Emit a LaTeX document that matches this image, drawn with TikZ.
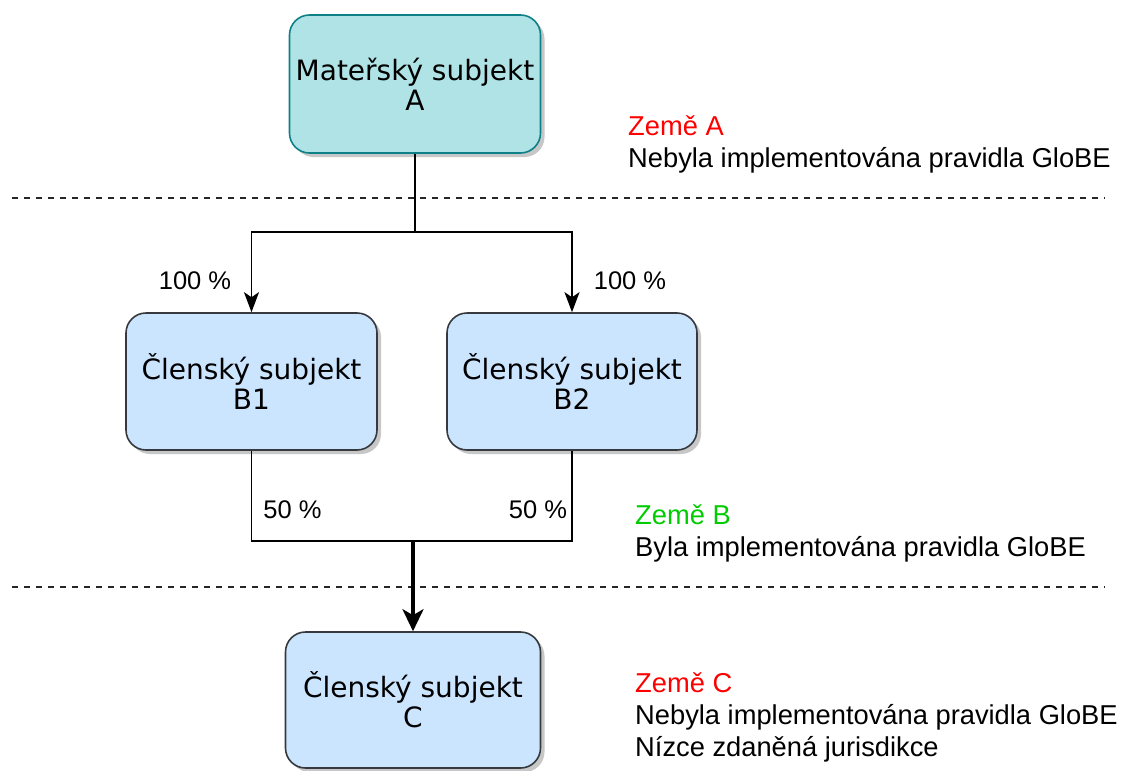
\documentclass[tikz,border=0pt]{standalone}
\usepackage{fontspec}
\setmainfont{Liberation Sans}
\newfontfamily\boxfont{DejaVu Sans}
\usetikzlibrary{arrows.meta,shadows}
\definecolor{tealfill}{HTML}{B0E3E6}
\definecolor{tealline}{HTML}{0E8088}
\definecolor{bluefill}{HTML}{CCE5FF}
\definecolor{blueline}{HTML}{36393D}
\definecolor{zred}{HTML}{FF0000}
\definecolor{zgreen}{HTML}{00CC00}
\tikzset{
  entity/.style={draw, line width=1.6pt, rounded corners=20pt, align=center,
    inner sep=0pt, font=\boxfont\fontsize{28}{30}\selectfont,
    drop shadow={shadow xshift=4pt, shadow yshift=-4pt, fill=black, opacity=0.22}},
  parent/.style={entity, fill=tealfill, draw=tealline},
  member/.style={entity, fill=bluefill, draw=blueline},
  link/.style={line width=1.8pt},
  linkarrow/.style={link, -{Stealth[length=20pt,width=15pt,inset=5pt]}},
  mainarrow/.style={line width=3.4pt, -{Stealth[length=22pt,width=21pt,inset=6pt]}},
  share/.style={font=\fontsize{25.5}{28}\selectfont, inner sep=0pt},
  divider/.style={line width=1.4pt, dash pattern=on 6pt off 6pt, draw=black!85},
  note/.style={align=left, anchor=west, inner sep=0pt, font=\fontsize{27.3}{32}\selectfont}
}
\begin{document}
\begin{tikzpicture}[x=1pt,y=-1pt]
\useasboundingbox (0,0) rectangle (1122,771);

% country dividers
\draw[divider] (12,198) coordinate (d1a) -- (1105,198) coordinate (d1b);
\draw[divider] (12,587) coordinate (d2a) -- (1105,587) coordinate (d2b);

% entities
\node[parent, minimum width=251pt, minimum height=138pt] (A) at (415,84) {Mateřský subjekt\\A};
\node[member, minimum width=251pt, minimum height=137pt] (B1) at (251.5,381.5) {Členský subjekt\\B1};
\node[member, minimum width=250pt, minimum height=137pt] (B2) at (572,381.5) {Členský subjekt\\B2};
\node[member, minimum width=255pt, minimum height=136pt] (C) at (413,700) {Členský subjekt\\C};

% ownership A -> B1, B2
\coordinate (j1) at (415,232);
\draw[link] (A.south) -- (j1);
\draw[linkarrow] (j1) -| (B1.north);
\draw[linkarrow] (j1) -| (B2.north);

% ownership B1, B2 -> C
\coordinate (j2) at (413,541);
\draw[link] (B1.south) -- (B1.south |- j2) -- (B2.south |- j2) -- (B2.south);
\draw[mainarrow] (j2) -- (C.north);

% shares
\node[share] (s1) at (195,281) {100 \%};
\node[share] (s2) at (630,281) {100 \%};
\node[share] (s3) at (292.5,510) {50 \%};
\node[share] (s4) at (538,510) {50 \%};

% country notes
\node[note] (nA) at (628,144) {{\color{zred}Země A}\\Nebyla implementována pravidla GloBE};
\node[note] (nB) at (635,533) {{\color{zgreen}Země B}\\Byla implementována pravidla GloBE};
\node[note] (nC) at (635,717) {{\color{zred}Země C}\\Nebyla implementována pravidla GloBE\\Nízce zdaněná jurisdikce};
\end{tikzpicture}
\end{document}
